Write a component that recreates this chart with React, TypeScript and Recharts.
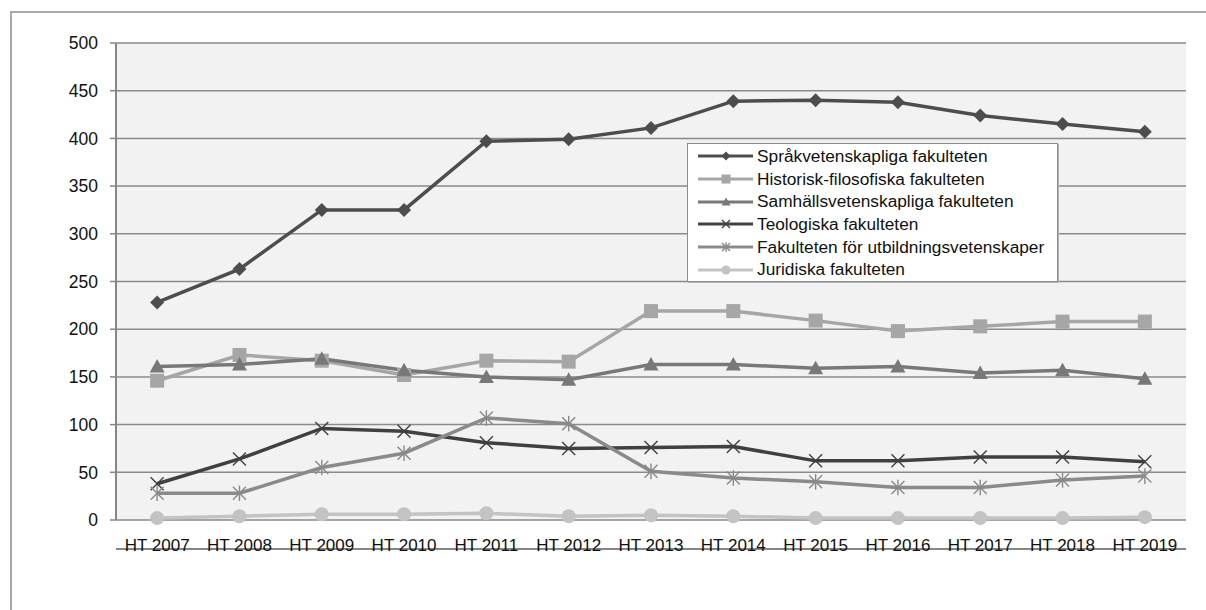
import React from 'react';
import {
  LineChart,
  Line,
  XAxis,
  YAxis,
  CartesianGrid,
} from 'recharts';

const categories = [
  'HT 2007', 'HT 2008', 'HT 2009', 'HT 2010', 'HT 2011', 'HT 2012', 'HT 2013',
  'HT 2014', 'HT 2015', 'HT 2016', 'HT 2017', 'HT 2018', 'HT 2019',
];

const sprak = [228, 263, 325, 325, 397, 399, 411, 439, 440, 438, 424, 415, 407];
const historisk = [146, 173, 167, 152, 167, 166, 219, 219, 209, 198, 203, 208, 208];
const samhall = [161, 163, 169, 157, 150, 147, 163, 163, 159, 161, 154, 157, 148];
const teologi = [38, 64, 96, 93, 81, 75, 76, 77, 62, 62, 66, 66, 61];
const utbildning = [28, 28, 55, 70, 107, 101, 51, 44, 40, 34, 34, 42, 46];
const juridik = [2, 4, 6, 6, 7, 4, 5, 4, 2, 2, 2, 2, 3];

const yTicks = [0, 50, 100, 150, 200, 250, 300, 350, 400, 450, 500];

type Shape = 'diamond' | 'square' | 'triangle' | 'cross' | 'star' | 'circle';

const series: { key: string; name: string; color: string; shape: Shape; values: number[] }[] = [
  { key: 'sprak', name: 'Språkvetenskapliga fakulteten', color: '#4d4d4d', shape: 'diamond', values: sprak },
  { key: 'historisk', name: 'Historisk-filosofiska fakulteten', color: '#a6a6a6', shape: 'square', values: historisk },
  { key: 'samhall', name: 'Samhällsvetenskapliga fakulteten', color: '#787878', shape: 'triangle', values: samhall },
  { key: 'teologi', name: 'Teologiska fakulteten', color: '#404040', shape: 'cross', values: teologi },
  { key: 'utbildning', name: 'Fakulteten för utbildningsvetenskaper', color: '#8a8a8a', shape: 'star', values: utbildning },
  { key: 'juridik', name: 'Juridiska fakulteten', color: '#c3c3c3', shape: 'circle', values: juridik },
];

// x sits in the middle of each category band so tick marks can go on the band edges
const data = categories.map((cat, i) => {
  const row: Record<string, number | string> = { x: i + 0.5, cat };
  series.forEach((s) => {
    row[s.key] = s.values[i];
  });
  return row;
});

const centerTicks = categories.map((_, i) => i + 0.5);
const edgeTicks = categories.map((_, i) => i).concat(categories.length);

const FONT = '"Liberation Sans", Arial, sans-serif';
const AXIS = '#868686';

function marker(shape: Shape, color: string, cx: number, cy: number, s: number, key?: string) {
  switch (shape) {
    case 'diamond':
      return (
        <polygon key={key} points={`${cx},${cy - s} ${cx + s},${cy} ${cx},${cy + s} ${cx - s},${cy}`} fill={color} />
      );
    case 'square':
      return <rect key={key} x={cx - s} y={cy - s} width={s * 2} height={s * 2} fill={color} />;
    case 'triangle':
      return (
        <polygon key={key} points={`${cx},${cy - s} ${cx + s},${cy + s * 0.8} ${cx - s},${cy + s * 0.8}`} fill={color} />
      );
    case 'cross':
      return (
        <g key={key} stroke={color} strokeWidth={1.4}>
          <line x1={cx - s} y1={cy - s} x2={cx + s} y2={cy + s} />
          <line x1={cx - s} y1={cy + s} x2={cx + s} y2={cy - s} />
        </g>
      );
    case 'star':
      return (
        <g key={key} stroke={color} strokeWidth={1.4}>
          <line x1={cx - s} y1={cy - s} x2={cx + s} y2={cy + s} />
          <line x1={cx - s} y1={cy + s} x2={cx + s} y2={cy - s} />
          <line x1={cx} y1={cy - s * 1.2} x2={cx} y2={cy + s * 1.2} />
        </g>
      );
    default:
      return <circle key={key} cx={cx} cy={cy} r={s} fill={color} />;
  }
}

const dotSize: Record<Shape, number> = {
  diamond: 7,
  square: 7,
  triangle: 7.5,
  cross: 6.5,
  star: 6.5,
  circle: 7,
};

function LegendBox() {
  return (
    <div
      style={{
        position: 'absolute',
        left: 687,
        top: 143,
        background: '#fff',
        border: '1px solid #8c8c8c',
        boxShadow: '1px 1px 0 #b5b5b5',
        width: 371,
        height: 139,
        boxSizing: 'border-box',
        paddingTop: 1,
        fontFamily: FONT,
        fontSize: 17.3,
        color: '#111',
      }}
    >
      {series.map((s) => (
        <div key={s.key} style={{ display: 'flex', alignItems: 'center', height: 22.7 }}>
          <svg width={66} height={22} style={{ marginLeft: 3 }}>
            <line x1={7} y1={11} x2={62} y2={11} stroke={s.color} strokeWidth={3} />
            {marker(s.shape, s.color, 35, 11, s.shape === 'cross' || s.shape === 'star' ? 4 : 4.5)}
          </svg>
          <span style={{ whiteSpace: 'nowrap' }}>{s.name}</span>
        </div>
      ))}
    </div>
  );
}

export default function App() {
  return (
    <div style={{ position: 'relative', width: 1206, height: 610, overflow: 'hidden', background: '#fff' }}>
      <style>{'body{margin:0;overflow:hidden}'}</style>
      <div
        style={{
          position: 'absolute',
          left: 10,
          top: 11,
          width: 1240,
          height: 640,
          border: '2px solid #a9a9a9',
        }}
      />
      <div style={{ position: 'absolute', left: 0, top: 0 }}>
        <LineChart
          width={1206}
          height={610}
          data={data}
          margin={{ top: 43, right: 20, bottom: 60, left: 56 }}
        >
          <CartesianGrid vertical={false} stroke="#8a8a8a" strokeWidth={1.5} fill="#f2f2f2" />
          {/* band edge tick marks, no labels */}
          <XAxis
            xAxisId="edges"
            dataKey="x"
            type="number"
            domain={[0, categories.length]}
            ticks={edgeTicks}
            interval={0}
            tick={false}
            tickLine={{ stroke: AXIS, strokeWidth: 1.5 }}
            tickSize={7}
            axisLine={{ stroke: AXIS, strokeWidth: 2 }}
            height={1}
          />
          <XAxis
            dataKey="x"
            type="number"
            domain={[0, categories.length]}
            ticks={centerTicks}
            interval={0}
            tickFormatter={(v: number) => categories[Math.floor(v)]}
            tick={{ fill: '#111', fontSize: 17, fontFamily: FONT }}
            tickLine={false}
            tickSize={0}
            tickMargin={19}
            axisLine={false}
            height={29}
          />
          <YAxis
            domain={[0, 500]}
            ticks={yTicks}
            interval={0}
            tick={{ fill: '#111', fontSize: 17.5, fontFamily: FONT }}
            tickLine={{ stroke: AXIS, strokeWidth: 1.5 }}
            tickSize={6}
            tickMargin={12}
            axisLine={{ stroke: AXIS, strokeWidth: 2 }}
            width={60}
          />
          {series.map((s) => (
            <Line
              key={s.key}
              dataKey={s.key}
              name={s.name}
              stroke={s.color}
              strokeWidth={3.5}
              isAnimationActive={false}
              dot={(p: any) => marker(s.shape, s.color, p.cx, p.cy, dotSize[s.shape], `${s.key}-${p.index}`)}
              activeDot={false}
            />
          ))}
        </LineChart>
      </div>
      <LegendBox />
    </div>
  );
}
